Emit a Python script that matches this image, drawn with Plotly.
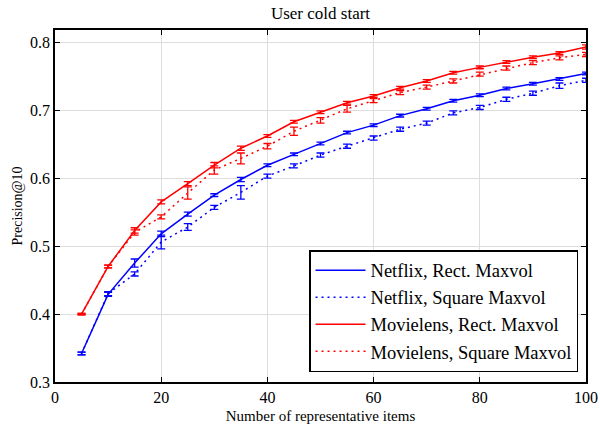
import plotly.graph_objects as go

x_items = [5, 10, 15, 20, 25, 30, 35, 40, 45, 50, 55, 60, 65, 70, 75, 80, 85, 90, 95, 100]

netflix_rect = [0.342, 0.429, 0.475, 0.518, 0.547, 0.575, 0.598, 0.619, 0.635, 0.651,
                0.667, 0.678, 0.692, 0.702, 0.714, 0.722, 0.732, 0.739, 0.746, 0.754]
netflix_rect_err = [0.002, 0.003, 0.006, 0.004, 0.003, 0.002, 0.003, 0.002, 0.002, 0.002,
                    0.002, 0.002, 0.002, 0.002, 0.002, 0.002, 0.002, 0.002, 0.002, 0.002]

netflix_square = [0.342, 0.430, 0.459, 0.506, 0.528, 0.557, 0.579, 0.603, 0.618, 0.634,
                  0.647, 0.659, 0.672, 0.681, 0.696, 0.704, 0.716, 0.725, 0.736, 0.744]
netflix_square_err = [0.002, 0.003, 0.003, 0.010, 0.005, 0.003, 0.010, 0.003, 0.003, 0.003,
                      0.003, 0.003, 0.003, 0.003, 0.003, 0.003, 0.003, 0.003, 0.004, 0.003]

movielens_rect = [0.400, 0.470, 0.523, 0.565, 0.592, 0.619, 0.644, 0.662, 0.683, 0.697,
                  0.711, 0.721, 0.733, 0.743, 0.755, 0.763, 0.771, 0.778, 0.784, 0.793]
movielens_rect_err = [0.001, 0.002, 0.004, 0.003, 0.003, 0.004, 0.003, 0.002, 0.002, 0.002,
                      0.002, 0.002, 0.002, 0.002, 0.002, 0.002, 0.002, 0.002, 0.002, 0.003]

movielens_square = [0.400, 0.470, 0.520, 0.543, 0.578, 0.612, 0.629, 0.647, 0.669, 0.685,
                    0.702, 0.714, 0.726, 0.734, 0.743, 0.753, 0.762, 0.770, 0.777, 0.782]
movielens_square_err = [0.001, 0.002, 0.004, 0.003, 0.009, 0.006, 0.008, 0.004, 0.006, 0.004,
                        0.005, 0.003, 0.003, 0.003, 0.003, 0.003, 0.003, 0.003, 0.003, 0.003]

series_names = ["Netflix, Rect. Maxvol", "Netflix, Square Maxvol",
                "Movielens, Rect. Maxvol", "Movielens, Square Maxvol"]

x_ticks = [0, 20, 40, 60, 80, 100]
y_ticks = [0.3, 0.4, 0.5, 0.6, 0.7, 0.8]

FONT = "Liberation Serif, Times New Roman, serif"
DOT = "2px,4px"

specs = [
    (netflix_rect, netflix_rect_err, "blue", "solid"),
    (netflix_square, netflix_square_err, "blue", DOT),
    (movielens_rect, movielens_rect_err, "red", "solid"),
    (movielens_square, movielens_square_err, "red", DOT),
]

fig = go.Figure()
for i, (vals, errs, color, dash) in enumerate(specs):
    fig.add_trace(go.Scatter(
        x=x_items, y=vals, mode="lines", name=series_names[i],
        legendgroup=f"g{i}",
        line=dict(color=color, width=1.5, dash=dash),
        error_y=dict(type="data", array=errs, visible=True, color=color,
                     thickness=1.3, width=4),
    ))

axis_common = dict(
    showline=True, linecolor="black", linewidth=1.5, mirror="allticks",
    ticks="inside", ticklen=5, tickcolor="black", tickwidth=1,
    showgrid=True, gridcolor="#dddddd", gridwidth=1, zeroline=False,
    automargin=False,
    tickfont=dict(family=FONT, size=16, color="black"),
)

fig.update_layout(
    width=600, height=431,
    margin=dict(l=55, r=14, t=30, b=49, autoexpand=False),
    paper_bgcolor="white", plot_bgcolor="white",
    title=dict(text="User cold start", xref="paper", x=0.5, xanchor="center",
               y=0.955, yanchor="bottom",
               font=dict(family=FONT, size=17, color="black")),
    font=dict(family=FONT, color="black"),
    xaxis=dict(range=[0, 100], tickvals=x_ticks,
               title=dict(text="Number of representative items", standoff=6,
                          font=dict(family=FONT, size=15, color="black")),
               **axis_common),
    yaxis=dict(range=[0.3, 0.818], tickvals=y_ticks, tickformat=".1f",
               title=dict(text="Precision@10", standoff=4,
                          font=dict(family=FONT, size=14, color="black")),
               **axis_common),
    legend=dict(x=0.985, y=0.028, xanchor="right", yanchor="bottom",
                bgcolor="white", bordercolor="black", borderwidth=1.5,
                font=dict(family=FONT, size=18.5, color="black"),
                traceorder="normal", itemwidth=50),
)

fig.write_html("out.html", config={"displayModeBar": False},
               post_script="document.body.style.margin='0';")
